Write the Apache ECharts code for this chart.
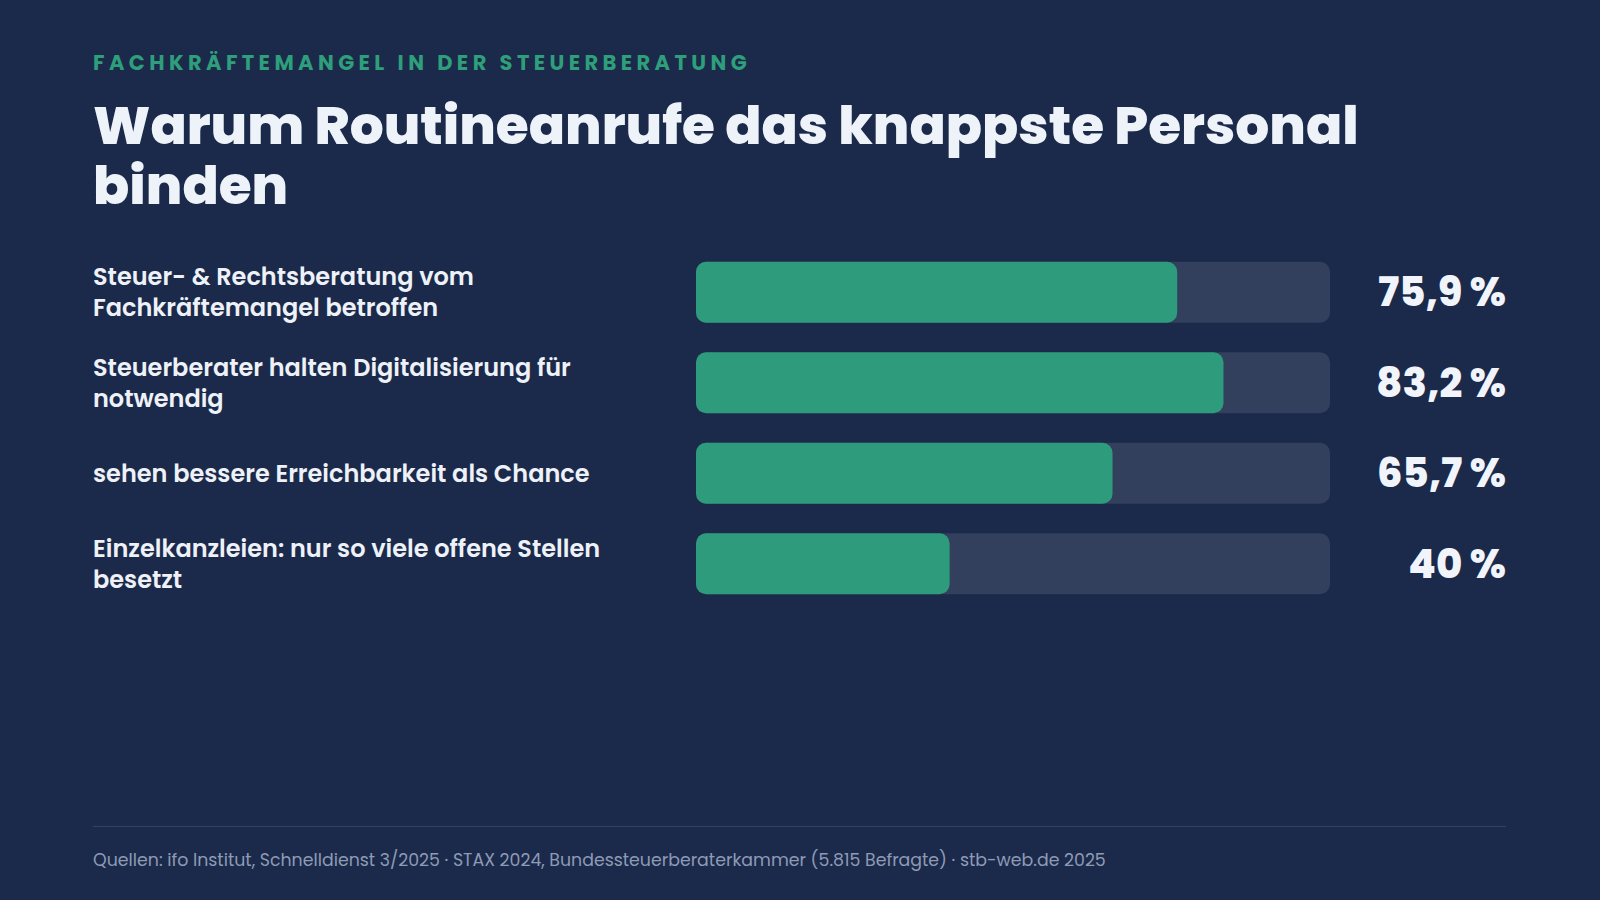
<!DOCTYPE html>
<html>
<head>
<meta charset="utf-8">
<script src="https://cdn.jsdelivr.net/npm/echarts@6/dist/echarts.min.js"></script>
<style>
html,body{margin:0;padding:0;background:#1b2a4a;}
#chart{width:1600px;height:900px;}
</style>
</head>
<body>
<div id="chart"></div>
<script>
const eyebrow = "FACHKRÄFTEMANGEL IN DER STEUERBERATUNG";
const titleText = "Warum Routineanrufe das knappste Personal\nbinden";
const categories = [
  "Steuer- & Rechtsberatung vom\nFachkräftemangel betroffen",
  "Steuerberater halten Digitalisierung für\nnotwendig",
  "sehen bessere Erreichbarkeit als Chance",
  "Einzelkanzleien: nur so viele offene Stellen\nbesetzt"
];
const values = [75.9, 83.2, 65.7, 40];
const sourceText = "Quellen: ifo Institut, Schnelldienst 3/2025 · STAX 2024, Bundessteuerberaterkammer (5.815 Befragte) · stb-web.de 2025";

function fmt(v){ return (Number.isInteger(v) ? String(v) : String(v).replace('.', ',')) + ' %'; }
const valueLabels = values.map(fmt);

const FONT = "Poppins, Inter, 'Noto Sans', sans-serif";
const chart = echarts.init(document.getElementById('chart'), null, {renderer: 'svg'});
chart.setOption({
  backgroundColor: '#1b2a4a',
  animation: false,
  title: {
    text: titleText,
    left: 88, top: 90,
    textStyle: {color: '#eef3f9', fontFamily: FONT, fontWeight: 800, fontSize: 53.4, lineHeight: 60}
  },
  grid: {left: 696, right: 270, top: 247, height: 362},
  xAxis: {type: 'value', min: 0, max: 100, show: false},
  yAxis: [{
    type: 'category', data: categories, inverse: true,
    axisLine: {show: false}, axisTick: {show: false}, splitLine: {show: false},
    axisLabel: {align: 'left', margin: 603, color: '#eef2f8', fontFamily: FONT, fontWeight: 600, fontSize: 24, lineHeight: 30.6}
  }, {
    type: 'category', data: valueLabels, inverse: true, position: 'right',
    axisLine: {show: false}, axisTick: {show: false}, splitLine: {show: false},
    axisLabel: {align: 'right', margin: 176, color: '#f1f5fb', fontFamily: FONT, fontWeight: 800, fontSize: 40}
  }],
  series: [{
    type: 'bar', data: values, barWidth: 61,
    showBackground: true,
    backgroundStyle: {color: '#323f5d', borderRadius: 10},
    itemStyle: {color: '#2e9c7c', borderRadius: 10}
  }],
  graphic: [
    {type: 'text', id: 'eyebrow', left: 93, top: 52, style: {text: eyebrow, fill: '#2e9e7b', font: "700 21px " + FONT}},
    {type: 'line', shape: {x1: 93, y1: 826.5, x2: 1506, y2: 826.5}, style: {stroke: '#33425f', lineWidth: 1}},
    {type: 'text', left: 93, top: 851, style: {text: sourceText, fill: '#8e9ab6', font: "400 17.35px " + FONT}}
  ]
});
function spaceEyebrow(){
  document.querySelectorAll('#chart svg text').forEach(t => {
    if (t.textContent === eyebrow) t.setAttribute('letter-spacing', '4.4');
  });
}
spaceEyebrow();
chart.on('finished', spaceEyebrow);
</script>
</body>
</html>
